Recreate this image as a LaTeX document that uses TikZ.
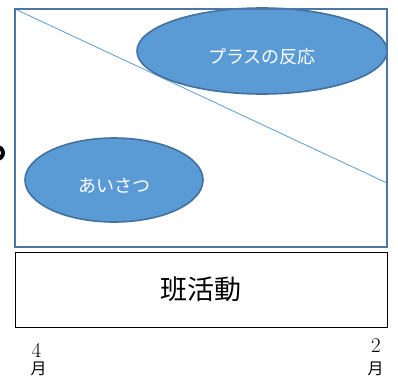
\documentclass[tikz,border=0pt]{standalone}
\usepackage{fontspec}
\newfontfamily\jp{Noto Sans CJK JP}
\usetikzlibrary{shapes.geometric}
\begin{document}
\begin{tikzpicture}[x=1pt,y=-1pt,
  blob/.style={ellipse,draw=ellborder,fill=ellfill,line width=1.6pt,inner sep=0pt,text=white,font=\jp\fontsize{18}{20}\selectfont},
  frame/.style={draw=frameblue,line width=2pt},
  digit/.style={inner sep=0pt,font=\fontsize{21}{21}\selectfont},
  moon/.style={inner sep=0pt,font=\jp\fontsize{16}{16}\selectfont}]
\definecolor{ellfill}{HTML}{5B9BD5}
\definecolor{ellborder}{HTML}{41719C}
\definecolor{frameblue}{HTML}{4A76A8}
\definecolor{diag}{HTML}{5B9BD5}
\useasboundingbox (0,0) rectangle (398,376);
\clip (0,0) rectangle (398,376);
\coordinate (tl) at (15,9);
\coordinate (dr) at (387,183);
\draw[diag,line width=0.8pt] (tl) -- (dr);
\node[blob,minimum width=250pt,minimum height=86pt] (plus) at (262,51) {\raisebox{-6pt}[\height][\depth]{プラスの反応}};
\node[blob,minimum width=178pt,minimum height=84pt] (aisatsu) at (114,180) {\raisebox{-6pt}[\height][\depth]{あいさつ}};
\draw[frame] (15,9) rectangle (387,247);
\node[draw=black,line width=1pt,minimum width=372pt,minimum height=75pt,font=\jp\fontsize{27}{29}\selectfont] (han) at (201,289.5) {班活動};
\node[digit] (four) at (36.5,350) {4};
\node[moon] (aprm) at (38.5,369) {月};
\node[digit] (two) at (376,346) {2};
\node[moon] (febm) at (375.5,369) {月};
\draw[black,line width=4pt] (-3,153) circle (6);
\end{tikzpicture}
\end{document}
